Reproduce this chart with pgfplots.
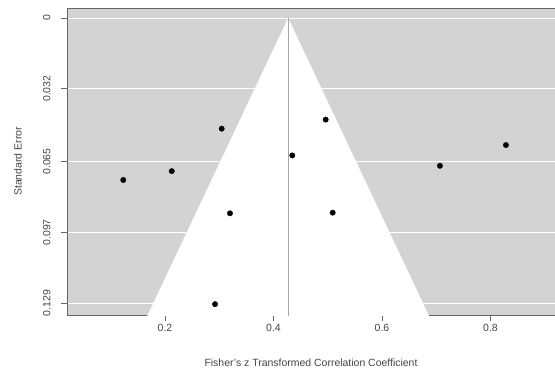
\documentclass[border=0pt]{standalone}
\usepackage{fontspec}
\setmainfont{Liberation Sans}
\usepackage{pgfplots}
\pgfplotsset{compat=1.18}
\definecolor{bg}{HTML}{D3D3D3}
\definecolor{txt}{HTML}{444444}
\begin{document}
\begin{tikzpicture}[x=1bp,y=1bp]
\begin{axis}[
  name=ax,
  scale only axis,
  width=488bp, height=307bp,
  xmin=0.0193, xmax=0.919,
  ymin=-0.0045, ymax=0.1344,
  y dir=reverse,
  clip=true,
  axis background/.style={fill=bg},
  axis line style={draw=gray!80!black, line width=0.6pt},
  xtick={0.2,0.4,0.6,0.8},
  xticklabels={0.2,0.4,0.6,0.8},
  ytick={0,0.032,0.065,0.097,0.129},
  yticklabels={0,0.032,0.065,0.097,0.129},
  yticklabel style={rotate=90, anchor=south, font=\fontsize{10.5}{12}\selectfont, text=txt},
  yticklabel shift={7bp},
  xticklabel style={font=\fontsize{10.5}{12}\selectfont, text=txt},
  tick align=outside,
  tick style={draw=gray!80!black, line width=0.5pt},
  major tick length=6bp,
  xtick pos=bottom, ytick pos=left,
  ymajorgrids, grid style={draw=white, line width=0.8pt},
  xlabel={Fisher's z Transformed Correlation Coefficient},
  ylabel={Standard Error},
  every axis x label/.style={at={(rel axis cs:0.5,-0.1564)}, anchor=center, font=\fontsize{10.5}{12}\selectfont, text=txt},
  every axis y label/.style={at={(rel axis cs:-0.1004,0.5)}, rotate=90, anchor=center, font=\fontsize{10.5}{12}\selectfont, text=txt},
]
\addplot[fill=white, draw=none] coordinates {(0.427,0) (0.1572,0.14) (0.6968,0.14)} -- cycle;
\addplot[draw=gray!70, line width=0.6pt] coordinates {(0.427,0) (0.427,0.14)};
\addplot[only marks, mark=*, mark size=2.7bp, mark options={fill=black, draw=black}] coordinates {
(0.123,0.0733)
(0.2124,0.0693)
(0.3045,0.0501)
(0.3198,0.0884)
(0.2922,0.1295)
(0.4347,0.0622)
(0.4962,0.0460)
(0.5091,0.0881)
(0.7069,0.0669)
(0.8286,0.0575)
};
\end{axis}
\pgfresetboundingbox
\path[use as bounding box] (ax.south west) ++(-67bp,-59bp) rectangle ([yshift=8bp]ax.north east);
\end{tikzpicture}
\end{document}
